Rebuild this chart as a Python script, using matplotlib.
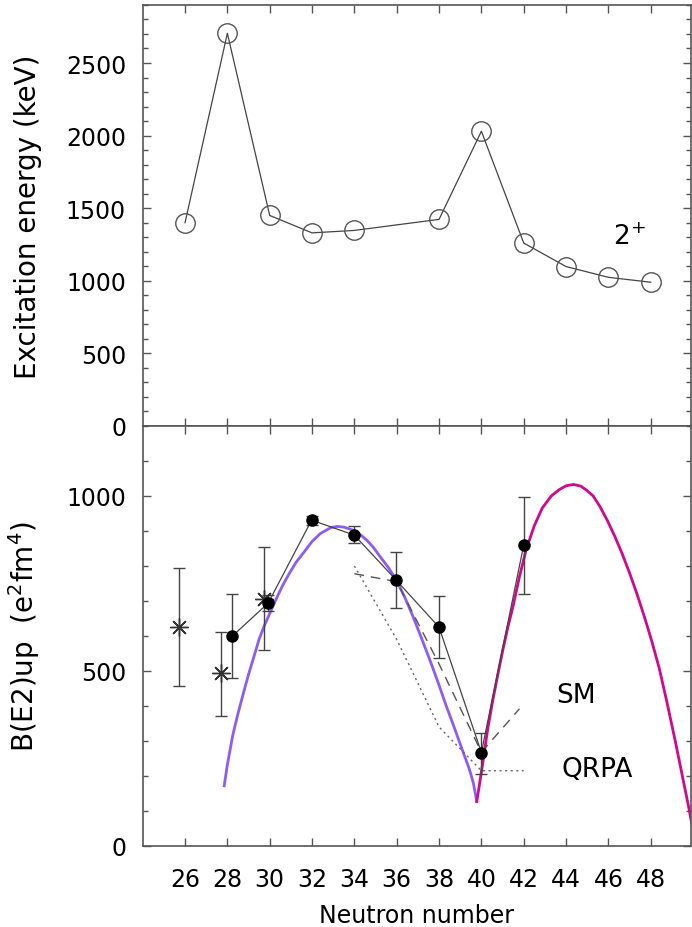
"""Two-panel systematics plot: 2+ excitation energies and B(E2)up vs neutron number."""

from __future__ import annotations

import matplotlib

matplotlib.use("Agg")
import matplotlib.pyplot as plt
from matplotlib.ticker import MultipleLocator

# top panel: 2+ excitation energy (keV)
E2_N = [26, 28, 30, 32, 34, 38, 40, 42, 44, 46, 48]
E2_KEV = [1400, 2705, 1450, 1330, 1347, 1423, 2030, 1260, 1098, 1024, 990]

# bottom panel: measured B(E2)up, filled dots (slightly shifted in N)
DOT_N = [28.24, 29.93, 31.98, 34.0, 35.97, 38.0, 40.0, 42.0]
DOT_B = [600, 694, 931, 888, 760, 625, 267, 860]
DOT_LO = [479, 670, 918, 867, 681, 537, 205, 720]
DOT_HI = [719, 718, 944, 914, 841, 713, 322, 998]

# older measurements, asterisks
AST_N = [25.72, 27.69, 29.74]
AST_B = [626, 493, 707]
AST_LO = [456, 372, 560]
AST_HI = [793, 612, 853]

# shell model and QRPA calculations
SM_N = [34, 36, 38, 40, 41.8]
SM_B = [778, 755, 520, 268, 392]
QRPA_N = [34, 36, 38, 40, 42]
QRPA_B = [800, 590, 340, 215, 215]

# smooth systematics curves
PURPLE_N = [27.85, 28.0, 28.25, 28.5, 28.75, 29.0, 29.25, 29.5, 29.75, 30.0,
            30.3, 30.6, 30.9, 31.24, 31.6, 32.0, 32.4, 32.9, 33.2, 33.5,
            33.9, 34.25, 34.6, 34.9, 35.2, 35.6, 36.0, 36.4, 36.76, 37.15,
            37.55, 37.95, 38.34, 38.65, 38.97, 39.2, 39.44, 39.62, 39.78]
PURPLE_B = [172, 232, 315, 378, 435, 490, 540, 591, 630, 664,
            705, 743, 776, 810, 838, 870, 893, 910, 913, 911,
            903, 891, 873, 853, 828, 796, 758, 708, 657, 597,
            534, 468, 400, 350, 296, 258, 218, 180, 128]
MAGENTA_N = [39.78, 39.92, 40.07, 40.3, 40.55, 40.8, 41.02, 41.25, 41.5, 41.8,
             42.12, 42.5, 42.87, 43.3, 43.7, 44.0, 44.35, 44.7, 45.0, 45.28,
             45.6, 45.95, 46.3, 46.65, 47.0, 47.35, 47.7, 48.05, 48.4, 48.75,
             49.14, 49.46, 49.78, 49.95]
MAGENTA_B = [127, 180, 239, 335, 420, 497, 562, 625, 686, 770,
             848, 915, 965, 1000, 1019, 1029, 1033, 1028, 1015, 1000,
             970, 930, 885, 835, 780, 720, 655, 585, 508, 415,
             305, 210, 115, 60]

X_TICKS = list(range(26, 49, 2))

FRAME = "#555555"
INK = "#444444"
FS = 17


def _style_axes(ax, *, ymax: float, show_xlabels: bool) -> None:
    ax.set_xlim(24, 49.9)
    ax.set_ylim(0, ymax)
    ax.set_xticks(X_TICKS)
    ax.yaxis.set_major_locator(MultipleLocator(500))
    ax.yaxis.set_minor_locator(MultipleLocator(100))
    ax.tick_params(which="both", direction="in", top=True, right=True,
                   color=FRAME, width=1.0, labelsize=FS)
    ax.tick_params(which="major", length=6)
    ax.tick_params(which="minor", length=3.5)
    ax.tick_params(axis="y", pad=12)
    ax.tick_params(axis="x", pad=15, labelbottom=show_xlabels)
    for spine in ax.spines.values():
        spine.set_color(FRAME)
        spine.set_linewidth(1.2)


def _energy_panel(ax) -> None:
    ax.plot(E2_N, E2_KEV, "-", color=INK, lw=0.9, marker="o", ms=14,
            mfc="none", mec="#555555", mew=1.0)
    ax.text(46.2, 1305, r"2$^{+}$", fontsize=FS + 2, va="center", ha="left")
    _style_axes(ax, ymax=2900, show_xlabels=False)
    ax.set_ylabel("Excitation energy (keV)", fontsize=FS + 3)
    ax.yaxis.set_label_coords(-0.184, 0.5)


def _be2_panel(ax) -> None:
    ax.plot(PURPLE_N, PURPLE_B, "-", color="#8c5cf5", lw=2.0, zorder=2)
    ax.plot(MAGENTA_N, MAGENTA_B, "-", color="#d0088c", lw=2.0, zorder=2)
    ax.plot(SM_N, SM_B, color="#555555", lw=1.0, dashes=(7, 5), zorder=2)
    ax.plot(QRPA_N, QRPA_B, color="#666666", lw=1.0, dashes=(1.5, 2.5), zorder=2)

    dot_err = [[b - lo for b, lo in zip(DOT_B, DOT_LO)],
               [hi - b for b, hi in zip(DOT_B, DOT_HI)]]
    ax.errorbar(DOT_N, DOT_B, yerr=dot_err, fmt="-", color=INK, lw=0.9,
                elinewidth=1.0, capsize=4.5, capthick=1.0, marker="o", ms=8,
                mfc="black", mec="black", zorder=3)

    ast_err = [[b - lo for b, lo in zip(AST_B, AST_LO)],
               [hi - b for b, hi in zip(AST_B, AST_HI)]]
    ax.errorbar(AST_N, AST_B, yerr=ast_err, fmt="none", ecolor=INK,
                elinewidth=1.0, capsize=4.5, capthick=1.0, zorder=3)
    ax.plot(AST_N, AST_B, ls="none", marker=(8, 2, 0), ms=13, mec="#333333",
            mew=1.0, zorder=3)

    ax.text(43.55, 431, "SM", fontsize=FS + 2, va="center", ha="left")
    ax.text(43.8, 220, "QRPA", fontsize=FS + 2, va="center", ha="left")

    _style_axes(ax, ymax=1200, show_xlabels=True)
    ax.set_ylabel(r"B(E2)up  (e$^{2}$fm$^{4}$)", fontsize=FS + 3)
    ax.yaxis.set_label_coords(-0.184, 0.5)
    ax.set_xlabel("Neutron number", fontsize=FS, labelpad=9)


def main() -> None:
    fig = plt.figure(figsize=(6.92, 9.28), dpi=100)
    ax_top = fig.add_axes([0.2062, 0.5399, 0.7923, 0.4537])
    ax_bot = fig.add_axes([0.2062, 0.0873, 0.7923, 0.4526])
    _energy_panel(ax_top)
    _be2_panel(ax_bot)
    fig.savefig("out.png", dpi=100)
    plt.close(fig)


if __name__ == "__main__":
    main()
